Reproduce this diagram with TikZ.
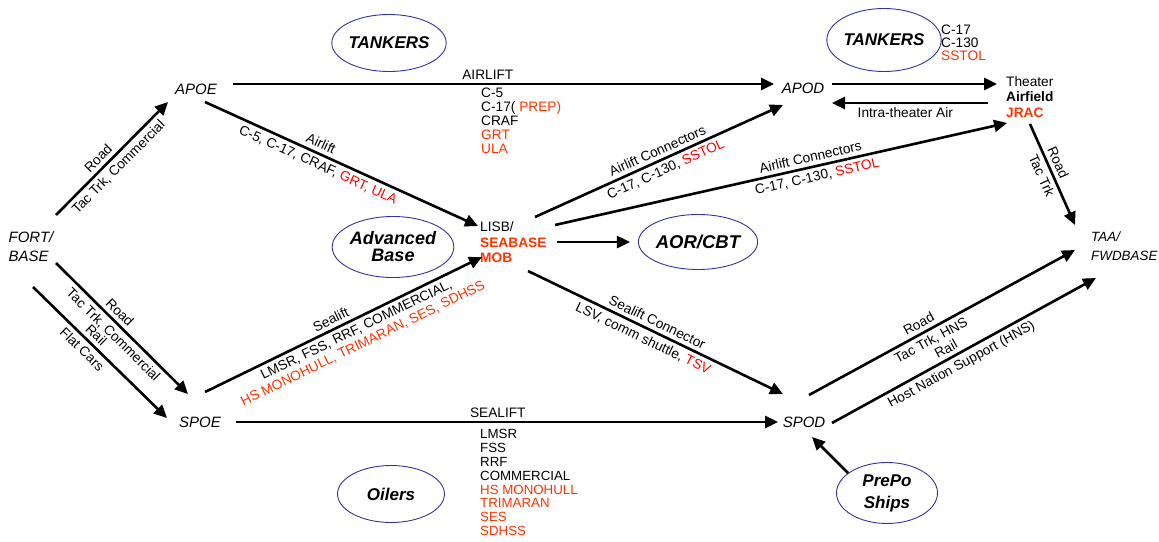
\documentclass[tikz,border=0pt]{standalone}
\usepackage{fontspec}
\setmainfont{Liberation Sans}
\usetikzlibrary{arrows.meta,shapes.geometric}
\definecolor{orng}{RGB}{255,51,0}
\definecolor{rd}{RGB}{255,0,0}
\definecolor{ellblue}{RGB}{51,51,160}
\begin{document}
\begin{tikzpicture}[x=1pt,y=-1pt,
  every node/.style={font=\fontsize{13.7}{14}\selectfont, inner sep=0pt},
  place/.style={font=\fontsize{15}{19}\selectfont\itshape, align=left},
  oval/.style={ellipse, draw=ellblue, line width=0.9pt, align=center,
     font=\fontsize{17}{20}\selectfont\bfseries\itshape},
  arr/.style={line width=2.6pt, -{Triangle[length=13pt,width=12pt]}},
  lab/.style={sloped, align=center, inner sep=3.8pt, font=\fontsize{13.7}{15}\selectfont},
  lst/.style={align=left, anchor=north west, font=\fontsize{13.7}{13.9}\selectfont}
]
\useasboundingbox (0,0) rectangle (1159,541);

% places
\node[place] (fort) at (31,247) {FORT/\\BASE};
\node[place] (apoe) at (196,89) {APOE};
\node[place] (spoe) at (200,422) {SPOE};
\node[place] (apod) at (803,88) {APOD};
\node[place] (spod) at (804,422) {SPOD};
\node[place, anchor=west, font=\fontsize{13.4}{19}\selectfont\itshape] (taa) at (1091,246.5) {TAA/\\FWDBASE};
\node[align=left, anchor=west, font=\fontsize{13.7}{15.5}\selectfont] (lisb) at (480,242.5)
  {LISB/\\\textcolor{orng}{\bfseries SEABASE}\\\textcolor{orng}{\bfseries MOB}};
\node[align=left, anchor=west, font=\fontsize{13.7}{15.5}\selectfont] (theater) at (1006,97)
  {Theater\\\bfseries Airfield\\\textcolor{orng}{\bfseries JRAC}};

% ellipses
\node[oval, minimum width=105pt, minimum height=57pt] (tankL) at (389,43) {TANKERS};
\node[oval, minimum width=102pt, minimum height=63pt] (tankR) at (884,40) {TANKERS};
\node[oval, minimum width=108pt, minimum height=61pt, font=\fontsize{18}{17}\selectfont\bfseries\itshape] (adv) at (393,247) {Advanced\\Base};
\node[oval, minimum width=100pt, minimum height=55pt, font=\fontsize{18.5}{20}\selectfont\bfseries\itshape] (aor) at (698,242) {AOR/CBT};
\node[oval, minimum width=107pt, minimum height=57pt] (oil) at (391,494) {Oilers};
\node[oval, minimum width=101pt, minimum height=61pt, font=\fontsize{17}{22}\selectfont\bfseries\itshape] (prepo) at (887,493) {PrePo\\Ships};

% lists
\node[lst] (airlist) at (481,88) {C-5\\C-17(\ \textcolor{orng}{PREP)}\\CRAF\\\textcolor{orng}{GRT}\\\textcolor{orng}{ULA}};
\node[lst, font=\fontsize{13.3}{13.9}\selectfont] (sealist) at (480,429) {LMSR\\FSS\\RRF\\COMMERCIAL\\\textcolor{orng}{HS MONOHULL}\\\textcolor{orng}{TRIMARAN}\\\textcolor{orng}{SES}\\\textcolor{orng}{SDHSS}};
\node[lst, font=\fontsize{13.7}{13}\selectfont] (tanklist) at (941,25) {C-17\\C-130\\\textcolor{orng}{SSTOL}};

% connectors
\draw[arr] ([shift={(25,-32)}]fort.center) -- node[lab, above, pos=0.44]{Road} node[lab, below, pos=0.49]{Tac Trk, Commercial} ([shift={(-28,13)}]apoe.center);
\draw[arr] ([shift={(25,16)}]fort.center) -- node[lab, above, pos=0.43]{Road} node[lab, below, pos=0.49]{Tac Trk, Commercial} ([shift={(-12,-28)}]spoe.center);
\draw[arr] ([shift={(2,40)}]fort.center) -- node[lab, above, pos=0.42]{Rail} node[lab, below, pos=0.42]{Flat Cars} ([shift={(-33,-4)}]spoe.center);

\draw[arr] ([shift={(37,-5)}]apoe.center) -- node[above=3pt, pos=0.471]{AIRLIFT} ([shift={(-29,-4)}]apod.center);
\draw[arr] ([shift={(9,13)}]apoe.center) -- node[lab, above, pos=0.41]{Airlift} node[lab, below, pos=0.43]{C-5, C-17, CRAF, \textcolor{rd}{GRT, ULA}} ([shift={(-2,-16.5)}]lisb.west);

\draw[arr] ([shift={(5,-30)}]spoe.center) -- node[lab, above, pos=0.47]{Sealift} node[lab, below, pos=0.53]{LMSR, FSS, RRF, COMMERCIAL,\\\textcolor{orng}{HS MONOHULL, TRIMARAN, SES, SDHSS}} ([shift={(2,14.5)}]lisb.west);
\draw[arr] ([shift={(36,0)}]spoe.center) -- node[above=3pt, pos=0.483]{SEALIFT} ([shift={(-26,0)}]spod.center);

\draw[arr] ([shift={(55,-25.5)}]lisb.west) -- node[lab, above, pos=0.51]{Airlift Connectors} node[lab, below, pos=0.51]{C-17, C-130, \textcolor{rd}{SSTOL}} ([shift={(-20,17)}]apod.center);
\draw[arr] ([shift={(75,-17.5)}]lisb.west) -- node[lab, above, pos=0.57]{Airlift Connectors} node[lab, below, pos=0.575]{C-17, C-130, \textcolor{rd}{SSTOL}} ([shift={(1,26)}]theater.west);
\draw[arr] ([shift={(77,-0.5)}]lisb.west) -- ([shift={(-8,0)}]aor.west);
\draw[arr] ([shift={(48,28.5)}]lisb.west) -- node[lab, above, pos=0.49]{Sealift Connector} node[lab, below, pos=0.47]{LSV, comm shuttle, \textcolor{rd}{TSV}} ([shift={(-21,-28)}]spod.center);

\draw[arr] ([shift={(29,-4)}]apod.center) -- ([shift={(-9,-13)}]theater.west);
\draw[arr] ([shift={(-18,6)}]theater.west) -- node[below=3pt, pos=0.53]{Intra-theater Air} ([shift={(29,15)}]apod.center);
\draw[arr] ([shift={(24,27)}]theater.west) -- node[lab, above, pos=0.42]{Road} node[lab, below, pos=0.47]{Tac Trk} ([shift={(-16,-21.5)}]taa.west);

\draw[arr] ([shift={(5,-27)}]spod.center) -- node[lab, above, pos=0.43]{Road} node[lab, below, pos=0.44]{Tac Trk, HNS} ([shift={(-16,3.5)}]taa.west);
\draw[arr] ([shift={(28,1)}]spod.center) -- node[lab, above, pos=0.45]{Rail} node[lab, below, pos=0.47]{Host Nation Support (HNS)} ([shift={(5,31.5)}]taa.west);
\draw[arr] ([shift={(-39,-20)}]prepo.center) -- ([shift={(8,15)}]spod.center);
\end{tikzpicture}
\end{document}
